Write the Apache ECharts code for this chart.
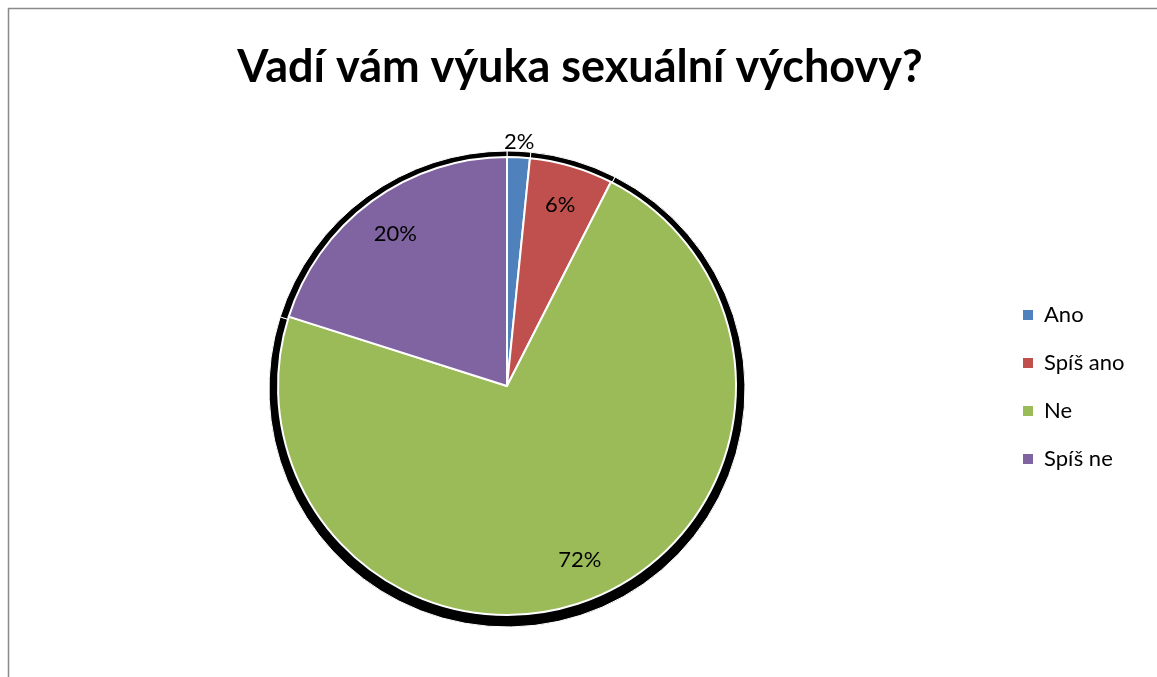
<!DOCTYPE html>
<html>
<head>
<meta charset="utf-8">
<script src="https://cdn.jsdelivr.net/npm/echarts@6/dist/echarts.min.js"></script>
<style>
  html, body { margin: 0; padding: 0; background: #fff; }
  #vychova { width: 1157px; height: 677px; }
</style>
</head>
<body>
<div id="vychova"></div>
<script>
// data
const categories = ['Ano', 'Spíš ano', 'Ne', 'Spíš ne']
const values = [1.6, 5.9, 72.4, 20.1]
const colors = ['#4F81BD', '#C0504D', '#9BBB59', '#8064A2']
const outsideLabels = ['Ano']

const chart = echarts.init(document.getElementById('vychova'))
const labelFont = 'Lato, "Open Sans", sans-serif'
const pct = function (p) { return Math.round(p.percent) + '%' }

const pieData = categories.map(function (name, i) {
  return { name: name, value: values[i], itemStyle: { color: colors[i] } }
})

const option = {
  backgroundColor: '#fff',
  animation: false,
  title: {
    text: 'Vadí vám výuka sexuální výchovy?',
    left: 575,
    top: 40,
    textAlign: 'center',
    textStyle: {
      fontFamily: 'Lato, sans-serif',
      fontWeight: 'bold',
      fontSize: 45,
      color: '#000'
    }
  },
  legend: {
    orient: 'vertical',
    left: 1016,
    top: 299,
    icon: 'rect',
    itemWidth: 12,
    itemHeight: 12,
    itemGap: 26,
    data: categories,
    textStyle: {
      fontFamily: labelFont,
      fontSize: 22,
      color: '#000',
      padding: [0, 0, 0, 5]
    }
  },
  graphic: [{
    type: 'rect',
    shape: { x: 8.5, y: 8.5, width: 1160, height: 680 },
    style: { fill: 'none', stroke: '#8a8a8a', lineWidth: 1.5 },
    silent: true
  }],
  series: [
    // shadow
    {
      type: 'pie',
      center: [507, 389],
      radius: 238,
      startAngle: 90,
      clockwise: true,
      silent: true,
      legendHoverLink: false,
      label: { show: false },
      labelLine: { show: false },
      itemStyle: { color: '#000', borderColor: '#fff', borderWidth: 1 },
      data: categories.map(function (name, i) { return { name: name + ' ', value: values[i] } })
    },
    // main pie
    {
      type: 'pie',
      center: [507, 386],
      radius: 229,
      startAngle: 90,
      clockwise: true,
      label: { show: false },
      labelLine: { show: false },
      itemStyle: { borderColor: '#fff', borderWidth: 2 },
      data: pieData
    },
    // inside labels
    {
      type: 'pie',
      center: [507, 386],
      radius: [143, 229],
      startAngle: 90,
      clockwise: true,
      silent: true,
      legendHoverLink: false,
      itemStyle: { color: 'rgba(0,0,0,0)' },
      labelLine: { show: false },
      label: {
        show: true,
        position: 'inside',
        formatter: pct,
        fontFamily: labelFont,
        fontSize: 22,
        color: '#000'
      },
      data: categories.map(function (name, i) {
        return { name: name, value: values[i], label: { show: outsideLabels.indexOf(name) < 0 } }
      })
    },
    // outside labels
    {
      type: 'pie',
      center: [507, 386],
      radius: [229, 254],
      startAngle: 90,
      clockwise: true,
      silent: true,
      legendHoverLink: false,
      itemStyle: { color: 'rgba(0,0,0,0)' },
      labelLine: { show: false },
      label: {
        show: true,
        position: 'inside',
        formatter: pct,
        fontFamily: labelFont,
        fontSize: 22,
        color: '#000'
      },
      data: categories.map(function (name, i) {
        return { name: name, value: values[i], label: { show: outsideLabels.indexOf(name) >= 0 } }
      })
    }
  ]
}

chart.setOption(option)
</script>
</body>
</html>
